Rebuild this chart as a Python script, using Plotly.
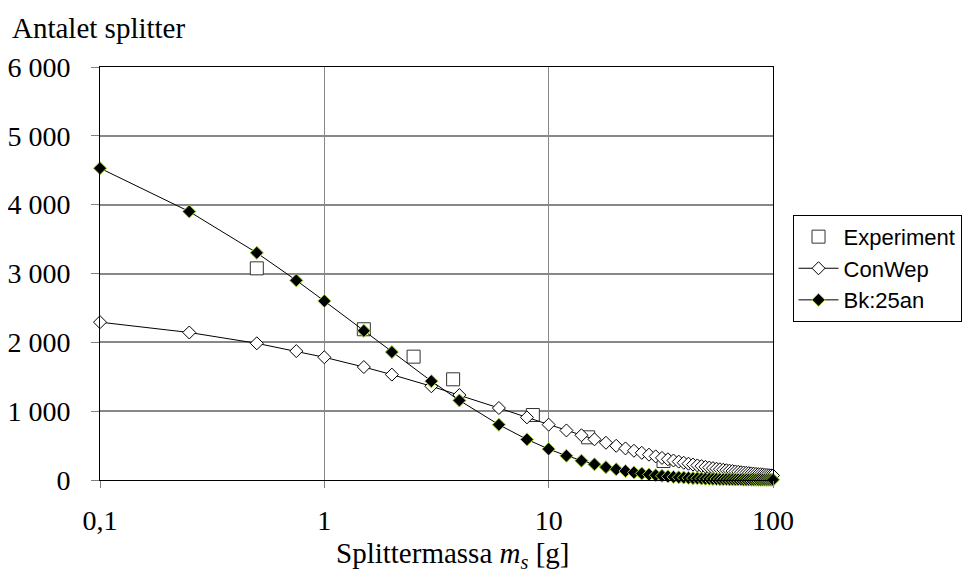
import plotly.graph_objects as go

# Data
mass_model = [0.1, 0.25, 0.5, 0.75, 1, 1.5, 2, 3, 4, 6, 8, 10] + list(range(12, 101, 2))
conwep = [2293, 2143, 1986, 1873, 1783, 1641, 1531, 1362, 1234, 1046, 910, 804,
          720, 650, 591, 541, 497, 459, 425, 395, 368, 343, 321, 301, 283, 267, 251,
          237, 224, 212, 201, 191, 181, 172, 164, 156, 149, 142, 136, 130, 124, 119,
          113, 109, 104, 100, 96, 92, 88, 85, 82, 78, 75, 73, 70, 67, 65]
bk25 = [4530, 3900, 3300, 2900, 2600, 2167, 1858, 1436, 1156, 803, 590, 450,
        352, 281, 228, 187, 156, 130, 110, 94, 80, 69, 60, 52, 45, 39, 35,
        31, 27, 24, 21, 19, 17, 15, 14, 12, 11, 10, 9, 8, 7, 7,
        6, 5, 5, 5, 4, 4, 3, 3, 3, 3, 2, 2, 2, 2, 2]
mass_exp = [0.5, 1.5, 2.5, 3.75, 8.5, 15, 32.5, 62.5]
count_exp = [3075, 2190, 1792, 1463, 944, 620, 276, 73]

x_tickvals = [0.1, 1, 10, 100]
x_ticktext = ["0,1", "1", "10", "100"]
y_tickvals = [0, 1000, 2000, 3000, 4000, 5000, 6000]
y_ticktext = ["0", "1 000", "2 000", "3 000", "4 000", "5 000", "6 000"]

SERIF = "Liberation Serif"
SANS = "Liberation Sans"

fig = go.Figure()
fig.add_trace(go.Scatter(
    x=mass_exp, y=count_exp, name="Experiment", mode="markers",
    marker=dict(symbol="square", size=13, color="white",
                line=dict(color="#333333", width=1)),
    cliponaxis=False))
fig.add_trace(go.Scatter(
    x=mass_model, y=conwep, name="ConWep", mode="lines+markers",
    line=dict(color="black", width=1),
    marker=dict(symbol="diamond", size=10, color="white",
                line=dict(color="black", width=1)),
    cliponaxis=False))
fig.add_trace(go.Scatter(
    x=mass_model, y=bk25, name="Bk:25an", mode="lines+markers",
    line=dict(color="black", width=1),
    marker=dict(symbol="diamond", size=10, color="black",
                line=dict(color="#9ACD32", width=1)),
    cliponaxis=False))

fig.update_layout(
    width=966, height=573,
    margin=dict(l=92, r=198, t=59, b=101),
    paper_bgcolor="white", plot_bgcolor="white",
    showlegend=True,
    legend=dict(x=1.029, y=0.642, xanchor="left", yanchor="top",
                bordercolor="black", borderwidth=1,
                font=dict(family=SANS, size=22, color="black"),
                itemwidth=40,
                bgcolor="white"),
    font=dict(family=SERIF, color="black"),
    xaxis=dict(type="log", range=[-1, 2], automargin=False,
               tickvals=x_tickvals, ticktext=x_ticktext,
               tickfont=dict(family=SERIF, size=28, color="black"),
               showgrid=True, gridcolor="#888888", gridwidth=1,
               showline=True, linecolor="black", linewidth=1, mirror=True,
               ticks="outside", ticklen=7, tickcolor="#808080",
               ticklabelstandoff=8,
               zeroline=False),
    yaxis=dict(range=[0, 6000], automargin=False,
               tickvals=y_tickvals, ticktext=y_ticktext,
               tickfont=dict(family=SERIF, size=28, color="black"),
               showgrid=True, gridcolor="#888888", gridwidth=2,
               showline=True, linecolor="black", linewidth=1, mirror=True,
               ticks="outside", ticklen=8, tickcolor="#808080",
               ticklabelstandoff=15,
               zeroline=True, zerolinecolor="black", zerolinewidth=2),
    annotations=[
        dict(text="Antalet splitter", xref="paper", yref="paper",
             x=-0.134, y=1.094, xanchor="left", yanchor="middle",
             showarrow=False, font=dict(family=SERIF, size=29, color="black")),
        dict(text="Splittermassa <i>m<sub>s</sub></i> [g]", xref="paper", yref="paper",
             x=0.524, y=-0.182, xanchor="center", yanchor="middle",
             showarrow=False, font=dict(family=SERIF, size=29, color="black")),
    ],
)

fig.write_html("out.html")
